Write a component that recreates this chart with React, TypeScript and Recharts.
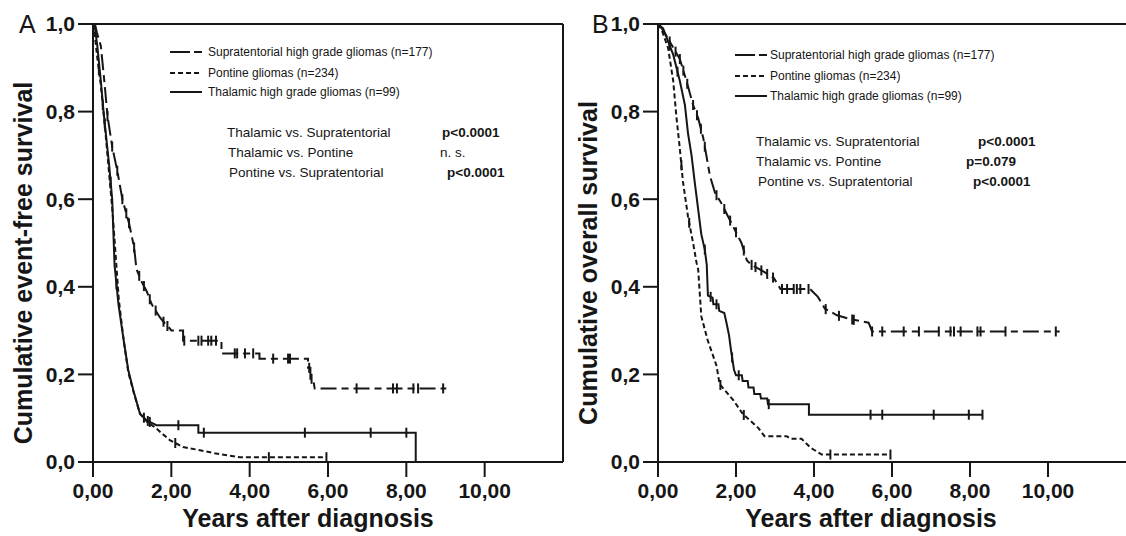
import { ComposedChart, Line, Scatter, XAxis, YAxis, ReferenceLine } from 'recharts';

type Pt = [number, number];

// x ticks (years) and y ticks (survival)
const xTicks = [0, 2, 4, 6, 8, 10];
const yTicks = [0, 0.2, 0.4, 0.6, 0.8, 1.0];

const groupLabels = [
  'Supratentorial high grade gliomas (n=177)',
  'Pontine gliomas (n=234)',
  'Thalamic high grade gliomas (n=99)',
];
const comparisons = ['Thalamic vs. Supratentorial', 'Thalamic vs. Pontine', 'Pontine vs. Supratentorial'];
const pValuesEfs = ['p<0.0001', 'n. s.', 'p<0.0001'];
const pValuesOs = ['p<0.0001', 'p=0.079', 'p<0.0001'];

// Panel A: event-free survival, curve vertices [years, survival]
const efsSupra: Pt[] = [
  [0, 1], [0.05, 1], [0.1, 0.98], [0.2, 0.95], [0.3, 0.86], [0.37, 0.79], [0.49, 0.72], [0.62, 0.665],
  [0.75, 0.6], [0.92, 0.545], [1.05, 0.49], [1.11, 0.44], [1.25, 0.41], [1.37, 0.39], [1.5, 0.36],
  [1.71, 0.33], [1.85, 0.315], [1.96, 0.305], [2.0, 0.3], [2.3, 0.3], [2.3, 0.277], [3.28, 0.277],
  [3.28, 0.248], [4.25, 0.248], [4.25, 0.236], [5.49, 0.236], [5.49, 0.215], [5.55, 0.215],
  [5.55, 0.19], [5.62, 0.19], [5.66, 0.168], [9.02, 0.168],
];
const efsPontine: Pt[] = [
  [0, 1], [0.04, 0.98], [0.1, 0.93], [0.2, 0.86], [0.3, 0.77], [0.4, 0.67], [0.5, 0.57], [0.58, 0.47],
  [0.66, 0.37], [0.78, 0.28], [0.9, 0.205], [1.05, 0.155], [1.2, 0.11], [1.4, 0.09], [1.6, 0.078],
  [1.75, 0.066], [1.96, 0.05], [2.3, 0.034], [2.73, 0.027], [3.1, 0.02], [3.45, 0.015], [3.75, 0.011],
  [5.96, 0.011],
];
const efsThalamic: Pt[] = [
  [0, 1], [0.05, 0.99], [0.11, 0.95], [0.2, 0.87], [0.28, 0.79], [0.41, 0.68], [0.49, 0.6], [0.55, 0.45],
  [0.65, 0.36], [0.77, 0.286], [0.9, 0.21], [1.03, 0.164], [1.2, 0.11], [1.37, 0.095], [1.62, 0.084],
  [2.69, 0.084], [2.69, 0.067], [8.24, 0.067], [8.24, 0],
];
const efsSupraCensored = [
  0.37, 0.49, 0.62, 0.75, 0.85, 0.92, 1.05, 1.18, 1.3, 1.45, 1.6, 1.8, 1.9, 2.33, 2.69, 2.77, 2.94, 3.02,
  3.14, 3.62, 3.68, 3.88, 4.09, 4.6, 4.98, 5.03, 5.52, 5.58, 6.73, 7.66, 7.76, 8.18, 8.3, 8.94,
];
const efsPontineCensored = [0.15, 0.25, 2.1, 4.49, 5.96];
const efsThalamicCensored = [0.3, 0.45, 0.6, 1.3, 1.4, 1.45, 2.18, 2.83, 5.41, 7.09, 8.0];

// Panel B: overall survival
const osSupra: Pt[] = [
  [0, 1], [0.1, 0.99], [0.3, 0.96], [0.56, 0.92], [0.73, 0.87], [0.9, 0.815], [1.03, 0.785], [1.16, 0.74],
  [1.24, 0.7], [1.33, 0.654], [1.46, 0.615], [1.63, 0.59], [1.8, 0.56], [1.97, 0.53], [2.14, 0.5],
  [2.28, 0.46], [2.4, 0.45], [2.7, 0.435], [2.97, 0.42], [3.14, 0.395], [3.9, 0.395], [4.1, 0.377],
  [4.28, 0.35], [4.59, 0.335], [4.94, 0.326], [5.4, 0.318], [5.49, 0.298], [10.3, 0.298],
];
const osPontine: Pt[] = [
  [0, 1], [0.1, 0.985], [0.26, 0.945], [0.39, 0.87], [0.47, 0.79], [0.56, 0.715], [0.64, 0.64],
  [0.77, 0.56], [0.9, 0.5], [0.99, 0.454], [1.03, 0.44], [1.11, 0.333], [1.27, 0.279], [1.5, 0.22],
  [1.58, 0.178], [1.94, 0.14], [2.18, 0.109], [2.57, 0.078], [2.73, 0.059], [3.3, 0.059], [3.4, 0.053],
  [3.68, 0.053], [3.92, 0.032], [4.2, 0.017], [5.96, 0.017],
];
const osThalamic: Pt[] = [
  [0, 1], [0.13, 0.99], [0.39, 0.93], [0.56, 0.87], [0.69, 0.815], [0.77, 0.75], [0.86, 0.7], [0.94, 0.64],
  [1.03, 0.577], [1.11, 0.52], [1.2, 0.485], [1.25, 0.45], [1.28, 0.38], [1.4, 0.375], [1.42, 0.36],
  [1.55, 0.36], [1.57, 0.345], [1.7, 0.34], [1.75, 0.32], [1.82, 0.29], [1.88, 0.25], [1.95, 0.21],
  [2.0, 0.198], [2.15, 0.198], [2.17, 0.185], [2.3, 0.185], [2.32, 0.17], [2.45, 0.17], [2.47, 0.155],
  [2.62, 0.155], [2.64, 0.145], [2.8, 0.145], [2.82, 0.132], [3.87, 0.132], [3.87, 0.108], [8.33, 0.108],
];
const osSupraCensored = [
  0.3, 0.45, 0.56, 0.65, 0.75, 0.9, 1.0, 1.1, 1.2, 1.5, 1.7, 1.85, 2.0, 2.2, 2.4, 2.5, 2.65, 2.8, 2.95,
  3.18, 3.31, 3.48, 3.56, 3.65, 3.86, 4.3, 4.64, 4.98, 5.02, 5.49, 5.75, 6.3, 6.69, 7.2, 7.5, 7.59, 7.76,
  8.19, 8.27, 8.91, 10.2,
];
const osPontineCensored = [0.6, 0.8, 1.6, 2.2, 4.42, 5.96];
const osThalamicCensored = [0.3, 0.5, 1.2, 1.35, 1.5, 1.9, 2.07, 2.84, 5.45, 5.75, 7.07, 7.97, 8.32];

const FONT = '"Liberation Sans", Arial, Helvetica, sans-serif';
const INK = '#161616';
const DASHES = ['16 5 7 5', '5 3', undefined];
const LEGEND_DASHES = ['20 4 8 4', '5 3', undefined];

const toRows = (pts: Pt[]) => pts.map(([t, s]) => ({ t, s }));

// survival drawn at time t (to place the censoring ticks on the curve)
function valueAt(pts: Pt[], t: number) {
  for (let i = 0; i < pts.length - 1; i++) {
    const [t0, s0] = pts[i];
    const [t1, s1] = pts[i + 1];
    if (t >= t0 && t <= t1) {
      if (t1 === t0) return s0;
      return s0 + ((s1 - s0) * (t - t0)) / (t1 - t0);
    }
  }
  return pts[pts.length - 1][1];
}

const censorRows = (pts: Pt[], times: number[]) => times.map((t) => ({ t, s: valueAt(pts, t) }));

const CensorTick = (props: any) => {
  const { cx, cy } = props;
  if (cx == null || cy == null) return null;
  return <line x1={cx} y1={cy - 5} x2={cx} y2={cy + 5} stroke={INK} strokeWidth={2} />;
};

type PanelProps = {
  width: number;
  right: number;
  curves: Pt[][];
  censored: number[][];
  box: boolean;
};

function SurvivalPanel({ width, right, curves, censored, box }: PanelProps) {
  const tickStyle = { fill: INK, fontSize: 21, fontWeight: 700, fontFamily: FONT };
  const axisLine = { stroke: INK, strokeWidth: 2 };

  return (
    <ComposedChart width={width} height={536} margin={{ top: 24, right, bottom: 0, left: 0 }}>
      <XAxis
        type="number"
        dataKey="t"
        domain={[0, 12]}
        ticks={xTicks}
        allowDataOverflow
        height={74}
        tickFormatter={(v: number) => v.toFixed(2).replace('.', ',')}
        tick={tickStyle}
        tickSize={15}
        tickMargin={6}
        axisLine={axisLine}
        tickLine={axisLine}
      />
      <YAxis
        type="number"
        dataKey="s"
        domain={[0, 1]}
        ticks={yTicks}
        width={93}
        tickFormatter={(v: number) => v.toFixed(1).replace('.', ',')}
        tick={tickStyle}
        tickSize={15}
        tickMargin={3}
        axisLine={axisLine}
        tickLine={axisLine}
      />
      <ReferenceLine y={1} stroke={INK} strokeWidth={2} />
      {box && <ReferenceLine x={12} stroke={INK} strokeWidth={2} />}

      {curves.map((pts, i) => (
        <Line
          key={'curve' + i}
          data={toRows(pts)}
          dataKey="s"
          type="linear"
          dot={false}
          stroke={INK}
          strokeWidth={2}
          strokeDasharray={DASHES[i]}
          isAnimationActive={false}
        />
      ))}
      {censored.map((times, i) => (
        <Scatter
          key={'cens' + i}
          data={censorRows(curves[i], times)}
          dataKey="s"
          shape={CensorTick}
          isAnimationActive={false}
        />
      ))}
    </ComposedChart>
  );
}

type NotesProps = {
  letter: string;
  letterX: number;
  yTitle: string;
  yTitleX: number;
  xTitleX: number;
  legendX: [number, number, number];
  legendY: number[];
  tableX: number[];
  tableY: number[];
  pX: number[];
  pValues: string[];
  pBold: boolean[];
};

function Notes(p: NotesProps) {
  return (
    <g fontFamily={FONT} fill={INK}>
      <text x={p.letterX} y={33} fontSize={25}>
        {p.letter}
      </text>
      <text
        x={p.yTitleX}
        y={263}
        fontSize={25}
        fontWeight={700}
        textAnchor="middle"
        dominantBaseline="central"
        transform={`rotate(-90 ${p.yTitleX} 263)`}
      >
        {p.yTitle}
      </text>
      <text x={p.xTitleX} y={527} fontSize={25} fontWeight={700} textAnchor="middle">
        Years after diagnosis
      </text>
      {groupLabels.map((label, i) => (
        <g key={label}>
          <line
            x1={p.legendX[0]}
            x2={p.legendX[1]}
            y1={p.legendY[i]}
            y2={p.legendY[i]}
            stroke={INK}
            strokeWidth={2}
            strokeDasharray={LEGEND_DASHES[i]}
          />
          <text x={p.legendX[2]} y={p.legendY[i] + 4} fontSize={12}>
            {label}
          </text>
        </g>
      ))}
      {comparisons.map((c, i) => (
        <g key={c}>
          <text x={p.tableX[i]} y={p.tableY[i]} fontSize={13.5}>
            {c}
          </text>
          <text x={p.pX[i]} y={p.tableY[i]} fontSize={13.5} fontWeight={p.pBold[i] ? 700 : 400}>
            {p.pValues[i]}
          </text>
        </g>
      ))}
    </g>
  );
}

export default function App() {
  return (
    <div style={{ position: 'absolute', left: 0, top: 0, width: 1126, height: 536, background: '#fff' }}>
      <div style={{ position: 'absolute', left: 0, top: 0 }}>
        <SurvivalPanel
          width={566}
          right={3}
          curves={[efsSupra, efsPontine, efsThalamic]}
          censored={[efsSupraCensored, efsPontineCensored, efsThalamicCensored]}
          box
        />
      </div>
      <div style={{ position: 'absolute', left: 565, top: 0 }}>
        <SurvivalPanel
          width={561}
          right={0}
          curves={[osSupra, osPontine, osThalamic]}
          censored={[osSupraCensored, osPontineCensored, osThalamicCensored]}
          box={false}
        />
      </div>
      <svg width={1126} height={536} style={{ position: 'absolute', left: 0, top: 0, pointerEvents: 'none' }}>
        <Notes
          letter="A"
          letterX={19}
          yTitle="Cumulative event-free survival"
          yTitleX={23}
          xTitleX={308}
          legendX={[170, 202, 208]}
          legendY={[52, 73, 92]}
          tableX={[227, 228, 229]}
          tableY={[137, 157, 177]}
          pX={[442, 440, 447]}
          pValues={pValuesEfs}
          pBold={[true, false, true]}
        />
        <Notes
          letter="B"
          letterX={592}
          yTitle="Cumulative overall survival"
          yTitleX={588}
          xTitleX={871}
          legendX={[735, 767, 770]}
          legendY={[55, 76, 96]}
          tableX={[756, 756, 758]}
          tableY={[146, 166, 186]}
          pX={[978, 966, 973]}
          pValues={pValuesOs}
          pBold={[true, true, true]}
        />
      </svg>
    </div>
  );
}
